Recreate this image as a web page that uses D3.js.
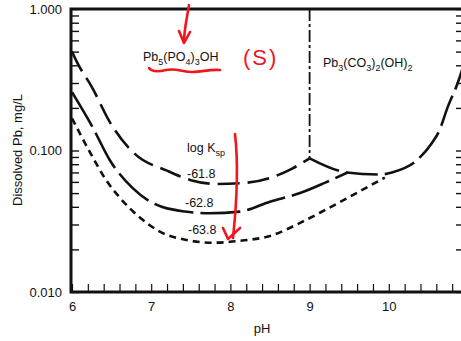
<!DOCTYPE html>
<html>
<head>
<meta charset="utf-8">
<title>Dissolved Pb vs pH</title>
<script src="https://d3js.org/d3.v7.min.js"></script>
<style>
	body { margin: 0; background: #fff; }
	svg { display: block; }
	text { font-family: "Liberation Sans", Arial, sans-serif; fill: #111; }
</style>
</head>
<body>
<div id="chart"></div>
<script>
// log Ksp = -61.8 (left branch up to pH 9, then the Pb3(CO3)2(OH)2 branch)
var pH618a = [6.0, 6.05, 6.26, 6.48, 6.79, 7.2, 7.49, 7.83, 8.18, 8.5, 8.78, 9.0];
var pb618a = [0.50, 0.435, 0.275, 0.158, 0.095, 0.072, 0.062, 0.058, 0.059, 0.064, 0.0745, 0.088];
var pH618b = [9.0, 9.47, 9.89, 10.04, 10.35, 10.54, 10.64, 10.74, 10.87, 11.0];
var pb618b = [0.088, 0.070, 0.0676, 0.070, 0.085, 0.112, 0.139, 0.20, 0.30, 0.51];
// log Ksp = -62.8
var pH628 = [6.0, 6.26, 6.48, 6.77, 7.2, 7.74, 8.12, 8.5, 8.88, 9.19, 9.48];
var pb628 = [0.258, 0.146, 0.085, 0.054, 0.039, 0.036, 0.037, 0.0435, 0.050, 0.059, 0.070];
// log Ksp = -63.8
var pH638 = [6.0, 6.25, 6.42, 6.61, 6.86, 7.11, 7.43, 7.78, 8.12, 8.5, 8.88, 9.13, 9.51, 9.95];
var pb638 = [0.169, 0.092, 0.063, 0.046, 0.0335, 0.0267, 0.0234, 0.0223, 0.023, 0.0249, 0.0308, 0.0363, 0.0472, 0.0644];
// phase boundary
var pHbound = [9.0, 9.0];
var pbBound = [1.0, 0.088];

var xTicks = d3.range(6, 11.001, 0.2).map(function(d) { return Math.round(d * 10) / 10; });
var yMajor = [0.01, 0.1, 1];
var yTicks = [];
[0.01, 0.1].forEach(function(dec) {
	for (var k = 1; k <= 9; k++) yTicks.push(+(dec * k).toPrecision(2));
});
yTicks.push(1);

var W = 461, H = 341;
var svg = d3.select("#chart").append("svg").attr("width", W).attr("height", H);

var x = d3.scaleLinear().domain([6, 11]).range([72, 468]);
var y = d3.scaleLog().domain([0.01, 1]).range([292, 9]);

// axes
var xAxis = d3.axisBottom(x)
	.tickValues(xTicks)
	.tickSize(-8)
	.tickPadding(10)
	.tickFormat(function(d) { return Number.isInteger(d) ? d : ""; });
var gx = svg.append("g").attr("transform", "translate(0,292)").call(xAxis);
gx.select(".domain").remove();
gx.selectAll("line").attr("stroke", "#111").attr("stroke-width", 1.2);
gx.selectAll("text").style("font-size", "13px").attr("fill", "#111");

var yAxis = d3.axisLeft(y)
	.tickValues(yTicks)
	.tickSize(-8)
	.tickPadding(9)
	.tickFormat(function(d) { return yMajor.indexOf(d) >= 0 ? d3.format(".3f")(d) : ""; });
var gy = svg.append("g").attr("transform", "translate(71,0)").call(yAxis);
gy.select(".domain").remove();
gy.selectAll("line").attr("stroke", "#111").attr("stroke-width", 1.4);
gy.selectAll("text").style("font-size", "13px").attr("fill", "#111");

var yAxisR = d3.axisRight(y).tickValues(yTicks).tickSize(-11).tickFormat("");
var gyr = svg.append("g").attr("transform", "translate(467,0)").call(yAxisR);
gyr.select(".domain").remove();
gyr.selectAll("line").attr("stroke", "#111").attr("stroke-width", 1.4);

// frame
svg.append("path")
	.attr("d", "M" + 71 + "," + 292 + "V" + 9 + "H" + 467 + "V" + 292 + "Z")
	.attr("fill", "none").attr("stroke", "#111").attr("stroke-width", 3);

// curves
var line = d3.line()
	.x(function(d) { return x(d[0]); })
	.y(function(d) { return y(d[1]); })
	.curve(d3.curveMonotoneX);

function zip(a, b) { return a.map(function(v, i) { return [v, b[i]]; }); }

svg.append("clipPath").attr("id", "plot")
	.append("rect").attr("x", 71).attr("y", 9).attr("width", 396).attr("height", 283);

var curves = svg.append("g").attr("clip-path", "url(#plot)");
curves.append("path").datum(zip(pH618a, pb618a)).attr("d", line)
	.attr("fill", "none").attr("stroke", "#111").attr("stroke-width", 2.6).attr("stroke-dasharray", "22,8");
curves.append("path").datum(zip(pH618b, pb618b)).attr("d", line)
	.attr("fill", "none").attr("stroke", "#111").attr("stroke-width", 2.6).attr("stroke-dasharray", "32,7");
curves.append("path").datum(zip(pH628, pb628)).attr("d", line)
	.attr("fill", "none").attr("stroke", "#111").attr("stroke-width", 2.6).attr("stroke-dasharray", "40,7");
curves.append("path").datum(zip(pH638, pb638)).attr("d", line)
	.attr("fill", "none").attr("stroke", "#111").attr("stroke-width", 2.6).attr("stroke-dasharray", "7,5");
curves.append("path").datum(zip(pHbound, pbBound)).attr("d", d3.line().x(function(d) { return x(d[0]); }).y(function(d) { return y(d[1]); }))
	.attr("fill", "none").attr("stroke", "#111").attr("stroke-width", 1.8).attr("stroke-dasharray", "12,3,3,3");

// labels with subscripts
function chem(parent, px, py, parts) {
	var t = parent.append("text").attr("x", px).attr("y", py).style("font-size", "12.5px");
	var low = false;
	parts.forEach(function(p) {
		if (p.sub) {
			t.append("tspan").attr("dy", low ? 0 : 3.5).style("font-size", "9px").text(p.sub);
			low = true;
		} else {
			t.append("tspan").attr("dy", low ? -3.5 : 0).text(p.t);
			low = false;
		}
	});
	return t;
}
chem(svg, 143, 61, [{t: "Pb"}, {sub: "5"}, {t: "(PO"}, {sub: "4"}, {t: ")"}, {sub: "3"}, {t: "OH"}]);
chem(svg, 323, 67, [{t: "Pb"}, {sub: "3"}, {t: "(CO"}, {sub: "3"}, {t: ")"}, {sub: "2"}, {t: "(OH)"}, {sub: "2"}]);
chem(svg, 187, 152, [{t: "log K"}, {sub: "sp"}]);

svg.append("text").attr("x", 187).attr("y", 178).style("font-size", "12.5px").text("-61.8");
svg.append("text").attr("x", 185).attr("y", 207).style("font-size", "12.5px").text("-62.8");
svg.append("text").attr("x", 188).attr("y", 234).style("font-size", "12.5px").text("-63.8");

svg.append("text").attr("x", 262).attr("y", 333).attr("text-anchor", "middle").style("font-size", "13px").text("pH");
svg.append("text")
	.attr("transform", "translate(22,150) rotate(-90)")
	.attr("text-anchor", "middle").style("font-size", "13px").text("Dissolved Pb, mg/L");

// red handwritten marks
var red = "#f4141c";
var marks = svg.append("g").attr("fill", "none").attr("stroke", red).attr("stroke-width", 2.6)
	.attr("stroke-linecap", "round").attr("stroke-linejoin", "round");
marks.append("path").attr("d", "M189,5 C187,18 184,30 184,42");
marks.append("path").attr("d", "M179,31 L184,43 L190,32");
marks.append("path").attr("d", "M149,68 C152,72 158,72 166,70 C176,68 183,72 192,72 C202,72 210,69 220,70");
marks.append("path").attr("d", "M235,134 C238,160 237,200 233,238");
marks.append("path").attr("d", "M223,228 L228,239 L240,228");
svg.append("text").attr("x", 243).attr("y", 65).style("font-size", "22px").style("letter-spacing", "2px")
	.style("fill", red).text("(S)");
</script>
</body>
</html>
